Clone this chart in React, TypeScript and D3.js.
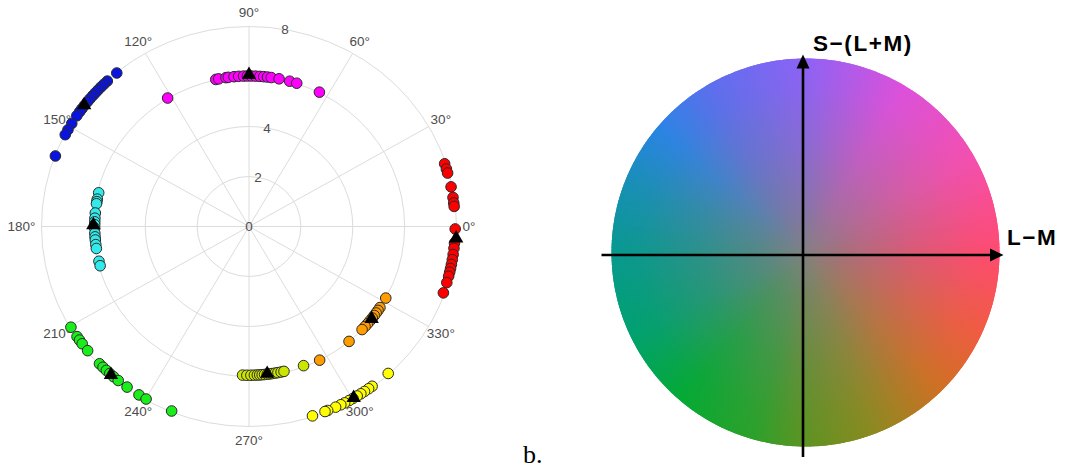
import * as d3 from 'd3';

// ---- data ----
const angleTicks = [0, 30, 60, 90, 120, 150, 180, 210, 240, 270, 300, 330];
const radiusTicks = [0, 2, 4, 6, 8];

// hue angle (deg) of every sample, one array per category
const redAngles = [18.4, 16.8, 15.6, 11.5, 8.4, 6.8, 5.8, -0.7, -4.8, -6.3, -8.1, -9.6, -11.0, -12.2, -13.3, -14.5, -16.4, -19.5];
const orangeAngles = [331.5, 327.3, 326.0, 324.8, 323.6, 322.4, 321.0, 319.6, 318.2, 316.6, 310.0, 297.0];
const yellowAngles = [312.4, 306.6, 305.4, 304.0, 302.8, 301.6, 300.2, 299.0, 297.6, 296.4, 294.8, 292.4, 291.6, 287.9];
const limeAngles = [267.6, 269.2, 270.7, 272.0, 273.1, 274.0, 274.9, 275.8, 276.8, 277.7, 278.6, 279.8, 280.8, 282.0, 283.1, 290.7];
const greenAngles = [210.4, 213.6, 214.8, 216.1, 218.6, 223.6, 225.0, 226.3, 227.6, 229.0, 230.7, 233.8, 237.8, 240.1, 248.0];
const cyanAngles = [166.9, 169.4, 170.4, 171.2, 174.8, 176.8, 178.2, 179.3, 180.6, 182.6, 184.0, 185.2, 187.0, 188.5, 193.5, 195.3];
const blueAngles = [129.7, 133.2, 134.5, 135.6, 136.8, 137.9, 139.0, 140.2, 141.3, 142.6, 143.8, 144.9, 146.3, 148.9, 151.0, 152.6, 159.3];
const magentaAngles = [121.4, 102.3, 101.2, 98.5, 97.6, 95.5, 93.8, 92.0, 90.6, 89.2, 87.6, 86.0, 84.6, 83.2, 81.8, 78.9, 74.9, 72.2, 63.2];

const categories = ['red', 'orange', 'yellow', 'lime', 'green', 'cyan', 'blue', 'magenta'];
const categoryAngles = [redAngles, orangeAngles, yellowAngles, limeAngles, greenAngles, cyanAngles, blueAngles, magentaAngles];
const categoryRadius = [7.95, 6.0, 7.96, 5.95, 7.96, 5.95, 7.98, 6.02];
const meanAngles = [356.6, 322.0, 300.5, 276.8, 228.1, 179.5, 142.6, 90.0];
const meanRadius = [8.0, 6.0, 7.95, 5.93, 7.97, 6.0, 8.0, 6.07];

const categoryColors: Record<string, string> = {
  red: '#ff0000',
  orange: '#ff9d00',
  yellow: '#ffff00',
  lime: '#cce600',
  green: '#1aee1a',
  cyan: '#33eaea',
  blue: '#0a14e0',
  magenta: '#ff00ff',
};

// colour of the wheel rim by hue angle
const wheelStopAngles = [0, 30, 60, 90, 120, 140, 160, 180, 205, 230, 255, 270, 290, 315, 335, 360];
const wheelStopColors = ['#ff4b70', '#f44fb0', '#dc50dc', '#8e62f6', '#5c6fee', '#2a84e4', '#1690b4', '#07998f', '#00a170', '#04aa34', '#2ea12a', '#5e9322', '#8a8a20', '#d07024', '#f05c40', '#ff4b70'];

// ---- layout ----
const W = 1065;
const H = 471;
const cx = 249;
const cy = 226.5;
const rx = 207.5;
const ry = 200;

const wx = 805.5;
const wy = 252.5;
const wr = 194;
const axX = 803;
const axY = 255;

const sx = d3.scaleLinear().domain([-8, 8]).range([cx - rx, cx + rx]);
const sy = d3.scaleLinear().domain([-8, 8]).range([cy + ry, cy - ry]);
const rad = (a: number) => (a * Math.PI) / 180;
const px = (a: number, r: number) => sx(r * Math.cos(rad(a)));
const py = (a: number, r: number) => sy(r * Math.sin(rad(a)));

const wheelColor = d3.scaleLinear<string>().domain(wheelStopAngles).range(wheelStopColors).interpolate(d3.interpolateRgb);

export default function App() {
  const grid = '#dcdcdc';
  const tri = d3.symbol().type(d3.symbolTriangle).size(90)() as string;

  // wedges for the colour wheel, angle measured counter-clockwise from +x
  const arc = d3.arc<any>().innerRadius(0).outerRadius(wr);
  const wedges = d3.range(0, 360, 1).map(a => ({
    a,
    path: arc({ startAngle: rad(90 - a - 1.6), endAngle: rad(90 - a + 0.6) }) as string,
  }));

  return (
    <svg width={W} height={H} style={{ position: 'absolute', left: 0, top: 0, background: '#fff' }}>
      <defs>
        <radialGradient id="grey" cx="50%" cy="50%" r="50%">
          <stop offset="0%" stopColor="#817f80" stopOpacity={0.97} />
          <stop offset="25%" stopColor="#817f80" stopOpacity={0.62} />
          <stop offset="55%" stopColor="#817f80" stopOpacity={0.3} />
          <stop offset="85%" stopColor="#817f80" stopOpacity={0.06} />
          <stop offset="100%" stopColor="#817f80" stopOpacity={0} />
        </radialGradient>
      </defs>

      {/* polar grid */}
      <g fill="none" stroke={grid} strokeWidth={1}>
        {radiusTicks.filter(r => r > 0).map(r => (
          <ellipse key={r} cx={cx} cy={cy} rx={sx(r) - sx(0)} ry={sy(0) - sy(r)} />
        ))}
        {angleTicks.map(a => (
          <line key={a} x1={cx} y1={cy} x2={px(a, 8)} y2={py(a, 8)} />
        ))}
      </g>
      <g fontFamily="'Liberation Sans', Arial, sans-serif" fontSize={13.5} fill="#4d4d4d">
        {radiusTicks.map(r => (
          <text key={r} x={px(80, r)} y={py(80, r)} textAnchor="middle" dominantBaseline="central">{r}</text>
        ))}
        {angleTicks.map(a => {
          const c = Math.cos(rad(a));
          const s = Math.sin(rad(a));
          const anchor = c > 0.99 ? 'start' : c < -0.99 ? 'end' : 'middle';
          const off = Math.abs(c) > 0.99 ? 6 : 14;
          return (
            <text key={a} x={px(a, 8) + c * off} y={py(a, 8) - s * off} textAnchor={anchor} dominantBaseline="central">{a}°</text>
          );
        })}
      </g>

      {/* samples */}
      <g stroke="#2a2a2a" strokeWidth={1}>
        {categories.map((c, i) =>
          categoryAngles[i].map((a, j) => (
            <circle key={c + j} cx={px(a, categoryRadius[i])} cy={py(a, categoryRadius[i])} r={5.3} fill={categoryColors[c]} />
          ))
        )}
      </g>
      <g fill="#000">
        {categories.map((c, i) => (
          <path key={c} d={tri} transform={`translate(${px(meanAngles[i], meanRadius[i])},${py(meanAngles[i], meanRadius[i])})`} />
        ))}
      </g>

      <text x={523} y={463} fontFamily="'Liberation Serif', 'Times New Roman', serif" fontSize={26} fill="#000">b.</text>

      {/* colour wheel */}
      <g transform={`translate(${wx},${wy})`}>
        {wedges.map(w => (
          <path key={w.a} d={w.path} fill={wheelColor(w.a)} />
        ))}
        <circle r={wr} fill="url(#grey)" />
      </g>
      <g stroke="#000" strokeWidth={2.6}>
        <line x1={601.5} y1={axY} x2={992} y2={axY} />
        <line x1={axX} y1={457} x2={axX} y2={66} />
      </g>
      <path d={`M1003.5,${axY} L990,${axY - 6.5} L990,${axY + 6.5} Z`} fill="#000" />
      <path d={`M${axX},54.5 L${axX - 6.5},68.5 L${axX + 6.5},68.5 Z`} fill="#000" />
      <g fontFamily="'Liberation Sans', Arial, sans-serif" fontWeight="bold" fontSize={22.5} fill="#000" letterSpacing={1.6}>
        <text x={813} y={50.5}>S−(L+M)</text>
        <text x={1007} y={245}>L−M</text>
      </g>
    </svg>
  );
}
